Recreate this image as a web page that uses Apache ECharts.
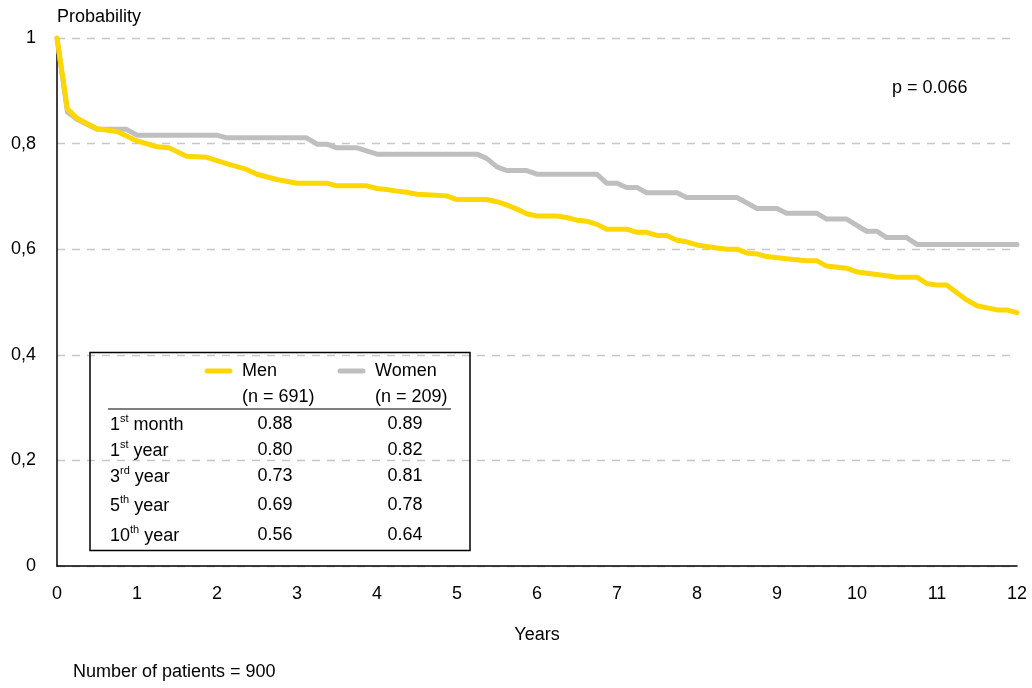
<!DOCTYPE html>
<html>
<head>
<meta charset="utf-8">
<script src="https://cdn.jsdelivr.net/npm/echarts@6/dist/echarts.min.js"></script>
<style>
  html, body { margin: 0; padding: 0; background: #fff; }
  #chart { width: 1032px; height: 688px; }
</style>
</head>
<body>
<div id="chart"></div>
<script>
// survival curves, [years, probability]
const menCurve = [
  [0, 1], [0.13, 0.866], [0.25, 0.848], [0.5, 0.828], [0.75, 0.823], [1.0, 0.805],
  [1.25, 0.794], [1.4, 0.792], [1.62, 0.776], [1.87, 0.774], [2.12, 0.762], [2.37, 0.751],
  [2.5, 0.742], [2.75, 0.732], [3.0, 0.725], [3.37, 0.725], [3.5, 0.72], [3.87, 0.72],
  [4.0, 0.715], [4.12, 0.713], [4.25, 0.71], [4.37, 0.708], [4.5, 0.704], [4.62, 0.703],
  [4.87, 0.701], [5.0, 0.694], [5.37, 0.694], [5.5, 0.69], [5.62, 0.684], [5.75, 0.676],
  [5.87, 0.667], [6.0, 0.663], [6.25, 0.663], [6.37, 0.66], [6.5, 0.655], [6.62, 0.653],
  [6.75, 0.647], [6.87, 0.638], [7.12, 0.638], [7.25, 0.632], [7.37, 0.632], [7.5, 0.626],
  [7.62, 0.626], [7.75, 0.617], [7.87, 0.614], [8.0, 0.608], [8.12, 0.605], [8.37, 0.6],
  [8.5, 0.6], [8.62, 0.593], [8.75, 0.591], [8.87, 0.586], [9.12, 0.582], [9.37, 0.578],
  [9.5, 0.578], [9.62, 0.568], [9.87, 0.564], [10.0, 0.557], [10.25, 0.552], [10.5, 0.547],
  [10.75, 0.547], [10.87, 0.535], [11.0, 0.532], [11.12, 0.532], [11.37, 0.504], [11.5, 0.493],
  [11.75, 0.485], [11.87, 0.485], [12.0, 0.48]
];
const womenCurve = [
  [0, 1], [0.13, 0.86], [0.25, 0.846], [0.5, 0.827], [0.87, 0.827], [1.0, 0.816],
  [2.0, 0.816], [2.12, 0.811], [3.12, 0.811], [3.25, 0.799], [3.37, 0.799], [3.5, 0.792],
  [3.75, 0.792], [4.0, 0.78], [5.25, 0.78], [5.37, 0.772], [5.5, 0.756], [5.62, 0.749],
  [5.87, 0.749], [6.0, 0.742], [6.75, 0.742], [6.87, 0.725], [7.0, 0.725], [7.12, 0.717],
  [7.25, 0.717], [7.37, 0.707], [7.75, 0.707], [7.87, 0.698], [8.5, 0.698], [8.75, 0.677],
  [9.0, 0.677], [9.12, 0.668], [9.5, 0.668], [9.62, 0.657], [9.87, 0.657], [10.12, 0.634],
  [10.25, 0.634], [10.37, 0.622], [10.62, 0.622], [10.75, 0.609], [12, 0.609]
];

// table in the lower left
const rowNumbers = ['1', '1', '3', '5', '10'];
const rowSuffixes = ['st', 'st', 'rd', 'th', 'th'];
const rowWords = ['month', 'year', 'year', 'year', 'year'];
const menTable = ['0.88', '0.80', '0.73', '0.69', '0.56'];
const womenTable = ['0.89', '0.82', '0.81', '0.78', '0.64'];
const groupNames = ['Men', 'Women'];
const groupSizes = [691, 209];

const FONT = '"Liberation Sans", Arial, sans-serif';
const FS = 18;
const MEN_COLOR = '#ffd700';
const WOMEN_COLOR = '#bfbfbf';

const chart = echarts.init(document.getElementById('chart'));

const rowY = [424, 450, 476, 505, 535];
const graphics = [
  {
    type: 'rect',
    shape: { x: 90, y: 352.5, width: 380, height: 198 },
    style: { fill: 'none', stroke: '#000', lineWidth: 1.5 },
    z: 10
  },
  {
    type: 'line',
    shape: { x1: 108, y1: 409, x2: 451, y2: 409 },
    style: { stroke: '#000', lineWidth: 1.2 },
    z: 10
  }
];
const legendX = [[207, 230, 242], [340, 363, 375]];
const legendColors = [MEN_COLOR, WOMEN_COLOR];
groupNames.forEach((name, i) => {
  graphics.push({
    type: 'line',
    shape: { x1: legendX[i][0], y1: 371, x2: legendX[i][1], y2: 371 },
    style: { stroke: legendColors[i], lineWidth: 5, lineCap: 'round' },
    z: 10
  });
  graphics.push({
    type: 'text',
    x: legendX[i][2], y: 371,
    style: { text: name, font: FS + 'px ' + FONT, fill: '#000', textVerticalAlign: 'middle' },
    z: 10
  });
  graphics.push({
    type: 'text',
    x: legendX[i][2], y: 397,
    style: { text: '(n = ' + groupSizes[i] + ')', font: FS + 'px ' + FONT, fill: '#000', textVerticalAlign: 'middle' },
    z: 10
  });
});
rowNumbers.forEach((num, i) => {
  graphics.push({
    type: 'text',
    x: 110, y: rowY[i],
    style: {
      text: '{n|' + num + '}{s|' + rowSuffixes[i] + '}{n| ' + rowWords[i] + '}',
      rich: {
        n: { fontSize: FS, fontFamily: FONT, lineHeight: 21, verticalAlign: 'bottom' },
        s: { fontSize: 11, fontFamily: FONT, lineHeight: 12, verticalAlign: 'top' }
      },
      fill: '#000', verticalAlign: 'middle'
    },
    z: 10
  });
  graphics.push({
    type: 'text',
    x: 275, y: rowY[i],
    style: { text: menTable[i], font: FS + 'px ' + FONT, fill: '#000', align: 'center', verticalAlign: 'middle' },
    z: 10
  });
  graphics.push({
    type: 'text',
    x: 405, y: rowY[i],
    style: { text: womenTable[i], font: FS + 'px ' + FONT, fill: '#000', align: 'center', verticalAlign: 'middle' },
    z: 10
  });
});
graphics.push({
  type: 'text', x: 892, y: 88,
  style: { text: 'p = 0.066', font: FS + 'px ' + FONT, fill: '#000', verticalAlign: 'middle' }
});
graphics.push({
  type: 'text', x: 73, y: 672,
  style: { text: 'Number of patients = 900', font: FS + 'px ' + FONT, fill: '#000', verticalAlign: 'middle' }
});

chart.setOption({
  animation: false,
  textStyle: { fontFamily: FONT },
  grid: { left: 57, right: 15, top: 38, bottom: 122 },
  xAxis: {
    type: 'value',
    min: 0, max: 12, interval: 1,
    name: 'Years',
    nameLocation: 'middle',
    nameGap: 60,
    nameTextStyle: { fontSize: FS, color: '#000', fontFamily: FONT },
    axisLine: { lineStyle: { color: '#000', width: 1.5 } },
    axisTick: { show: false },
    axisLabel: { fontSize: FS, color: '#000', margin: 19, fontFamily: FONT },
    splitLine: { show: false }
  },
  yAxis: {
    type: 'value',
    min: 0, max: 1, interval: 0.2,
    name: 'Probability',
    nameLocation: 'end',
    nameGap: 12,
    nameTextStyle: { fontSize: FS, color: '#000', align: 'left', fontFamily: FONT },
    axisLine: { show: true, lineStyle: { color: '#000', width: 1.5 } },
    axisTick: { show: false },
    axisLabel: {
      fontSize: FS, color: '#000', margin: 21, fontFamily: FONT,
      formatter: v => String(+v.toFixed(1)).replace('.', ',')
    },
    splitLine: { show: true, lineStyle: { color: '#c8c8c8', type: [8, 7], width: 1.3 } }
  },
  series: [
    {
      name: 'Women',
      type: 'line',
      data: womenCurve,
      symbol: 'none',
      lineStyle: { color: WOMEN_COLOR, width: 5, cap: 'round', join: 'round' },
      z: 3
    },
    {
      name: 'Men',
      type: 'line',
      data: menCurve,
      symbol: 'none',
      lineStyle: { color: MEN_COLOR, width: 5, cap: 'round', join: 'round' },
      z: 4
    }
  ],
  graphic: graphics
});
</script>
</body>
</html>
